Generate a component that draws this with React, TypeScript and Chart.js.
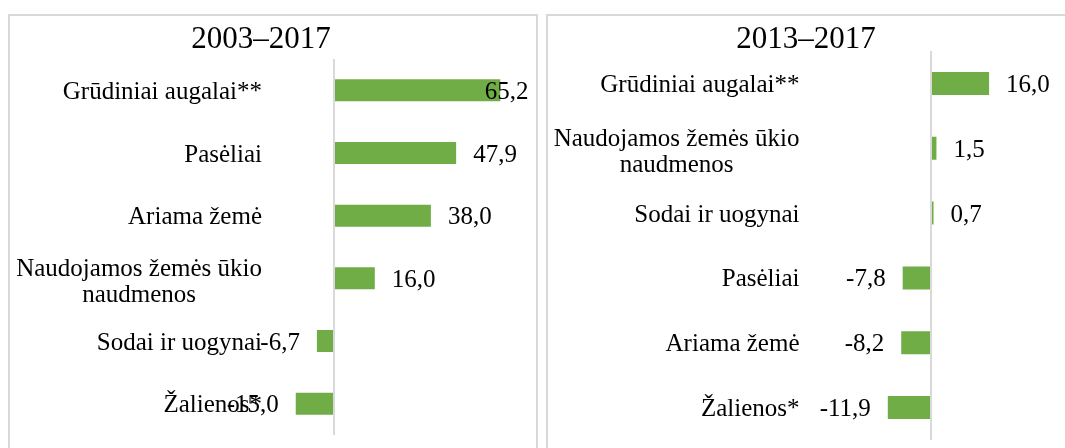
import React, { useEffect, useRef } from "react";
import { Chart, registerables } from "chart.js";

Chart.register(...registerables);

// ---------- data ----------
const leftTitle = "2003–2017";
const leftCategories: string[][] = [
  ["Grūdiniai augalai**"],
  ["Pasėliai"],
  ["Ariama žemė"],
  ["Naudojamos žemės ūkio", "naudmenos"],
  ["Sodai ir uogynai"],
  ["Žalienos*"],
];
const leftValues = [65.2, 47.9, 38.0, 16.0, -6.7, -15.0];

const rightTitle = "2013–2017";
const rightCategories: string[][] = [
  ["Grūdiniai augalai**"],
  ["Naudojamos žemės ūkio", "naudmenos"],
  ["Sodai ir uogynai"],
  ["Pasėliai"],
  ["Ariama žemė"],
  ["Žalienos*"],
];
const rightValues = [16.0, 1.5, 0.7, -7.8, -8.2, -11.9];

// ---------- style ----------
const FONT = '"Liberation Serif", "Times New Roman", serif';
const LABEL_SIZE = 25;
const TITLE_SIZE = 31;
const LINE_H = 26;
const GAP = 17;
const BAR_COLOR = "#70AD47";
const LINE_COLOR = "#d9d9d9";

type PanelCfg = {
  title: string;
  labels: string[][];
  values: number[];
  canvasLeft: number;
  canvasWidth: number;
  padding: { left: number; right: number; top: number; bottom: number };
  min: number;
  max: number;
  barPct: number;
  titleX: number;
  titleBaseline: number;
  labelRight: number;
  labelLimit: number;
  textShift: number;
};

const fmt = (v: number) => v.toFixed(1).replace(".", ",");

function makeTextPlugin(cfg: PanelCfg) {
  return {
    id: "panelText",
    afterDatasetsDraw(chart: any) {
      const ctx: CanvasRenderingContext2D = chart.ctx;
      const xs = chart.scales.x;
      const ys = chart.scales.y;
      ctx.save();
      ctx.fillStyle = "#000";
      ctx.font = `${TITLE_SIZE}px ${FONT}`;
      ctx.textAlign = "center";
      ctx.textBaseline = "alphabetic";
      ctx.fillText(cfg.title, cfg.titleX, cfg.titleBaseline);

      ctx.font = `${LABEL_SIZE}px ${FONT}`;
      ctx.textBaseline = "middle";
      (chart.data.labels as string[][]).forEach((lab, i) => {
        const lines = Array.isArray(lab) ? lab : [lab];
        const cy = ys.getPixelForValue(i) + cfg.textShift;
        const maxW = Math.max(...lines.map((l) => ctx.measureText(l).width));
        const cx = cfg.labelRight - maxW / 2;
        const blockShift = lines.length > 1 ? 2 : 0;
        ctx.textAlign = "center";
        lines.forEach((l, k) => {
          ctx.fillText(l, cx, cy + blockShift + (k - (lines.length - 1) / 2) * LINE_H);
        });
        const v = chart.data.datasets[0].data[i] as number;
        const end = xs.getPixelForValue(v);
        const txt = fmt(v);
        const w = ctx.measureText(txt).width;
        let lx: number;
        if (v >= 0) {
          lx = end + GAP;
          if (lx + w > cfg.labelLimit) lx = cfg.labelLimit - w;
        } else {
          lx = end - GAP - w;
        }
        ctx.textAlign = "left";
        ctx.fillText(txt, lx, cy);
      });
      ctx.restore();
    },
  };
}

function Panel({ cfg }: { cfg: PanelCfg }) {
  const ref = useRef<HTMLCanvasElement | null>(null);
  useEffect(() => {
    if (!ref.current) return;
    const chart = new Chart(ref.current, {
      type: "bar",
      data: {
        labels: cfg.labels as any,
        datasets: [
          {
            data: cfg.values,
            backgroundColor: BAR_COLOR,
            borderWidth: 0,
            categoryPercentage: 1,
            barPercentage: cfg.barPct,
          },
        ],
      },
      options: {
        indexAxis: "y",
        responsive: false,
        animation: false,
        layout: { padding: cfg.padding },
        plugins: {
          legend: { display: false },
          tooltip: { enabled: false },
          title: { display: false },
        },
        scales: {
          x: {
            min: cfg.min,
            max: cfg.max,
            ticks: { display: false, stepSize: 10 },
            grid: {
              drawTicks: false,
              lineWidth: 2,
              color: (c: any) => (c.tick && c.tick.value === 0 ? LINE_COLOR : "rgba(0,0,0,0)"),
            },
            border: { display: false },
          },
          y: { display: false },
        },
      },
      plugins: [makeTextPlugin(cfg)],
    });
    return () => chart.destroy();
  }, [cfg]);
  return (
    <canvas
      ref={ref}
      width={cfg.canvasWidth}
      height={448}
      style={{
        position: "absolute",
        left: cfg.canvasLeft,
        top: 0,
        width: cfg.canvasWidth,
        height: 448,
      }}
    />
  );
}

const leftCfg: PanelCfg = {
  title: leftTitle,
  labels: leftCategories,
  values: leftValues,
  canvasLeft: 0,
  canvasWidth: 540,
  padding: { left: 283, right: 2, top: 59, bottom: 13 },
  min: -20,
  max: 80,
  barPct: 0.352,
  titleX: 261,
  titleBaseline: 48,
  labelRight: 262,
  labelLimit: 528.5,
  textShift: 2,
};

const rightCfg: PanelCfg = {
  title: rightTitle,
  labels: rightCategories,
  values: rightValues,
  canvasLeft: 540,
  canvasWidth: 525,
  padding: { left: 318.4, right: 61.4, top: 51, bottom: 8 },
  min: -20,
  max: 20,
  barPct: 0.355,
  titleX: 266,
  titleBaseline: 48,
  labelRight: 259.5,
  labelLimit: 520,
  textShift: 2,
};

export default function App() {
  return (
    <div
      style={{
        position: "fixed",
        left: 0,
        top: 0,
        width: 1065,
        height: 448,
        overflow: "hidden",
        background: "#fff",
      }}
    >
      <div
        style={{
          position: "absolute",
          left: 8,
          top: 14,
          width: 530,
          height: 500,
          border: `2px solid ${LINE_COLOR}`,
          boxSizing: "border-box",
        }}
      />
      <div
        style={{
          position: "absolute",
          left: 546,
          top: 14,
          width: 600,
          height: 500,
          border: `2px solid ${LINE_COLOR}`,
          boxSizing: "border-box",
        }}
      />
      <Panel cfg={leftCfg} />
      <Panel cfg={rightCfg} />
    </div>
  );
}
